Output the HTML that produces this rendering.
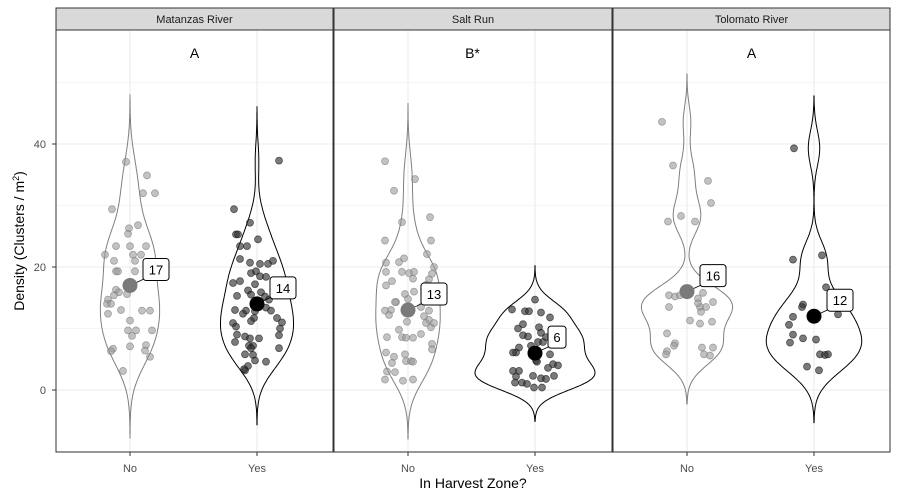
<!DOCTYPE html>
<html><head><meta charset="utf-8"><style>
body{margin:0;background:#fff;}
svg{display:block;font-family:"Liberation Sans",Arial,sans-serif;}
</style></head><body>
<svg id="chart" width="898" height="500"></svg>
<script>
const panels=["Matanzas River","Salt Run","Tolomato River"];
const letters=["A","B*","A"];
const groups=["No","Yes"];
const yTicks=[0,20,40];
const means=[[17,14],[13,6],[16,12]];
const meanLabels=[["17","14"],["13","6"],["16","12"]];
// values per panel/group
const vals=[
[[37.1,34.9,32,32,29.4,26.8,26.3,25.4,23.4,23.4,23.4,22,22,22,21,21,19.3,19.3,19.3,16.3,15.9,15.4,15.6,14.7,14,14,13,12.9,12.9,12.4,11.3,9.7,9.7,9.7,8.8,7.1,7.3,6.7,6.3,6.4,5.4,3.1],
 [37.3,29.4,27.2,25.3,25.3,24.5,23.4,23.4,21.3,20.7,20.5,20.5,21,19,19.3,18.5,18.4,17.4,17.7,17.2,15.3,16.2,15.5,15.2,15.9,14.7,13,12.9,12.4,12.8,13.4,12.9,11.7,11.2,11.7,11,10,8.9,10.9,10.3,9,8.7,8.4,8.4,7.8,7.2,7.2,6.8,5.8,5.7,4.6,4.8,3.9,3.2,3.4,6.8]],
[[37.2,34.3,32.4,27.3,28.1,24.3,24.3,22.1,21.4,20.8,20.7,20,19.2,19.2,19,19.2,18.1,18.9,18,17.7,17,17.1,16.4,15.6,16,14.8,14.3,14.3,12.9,13,12.2,13.5,12.9,12,11.4,10.9,10.2,10.9,11.1,9.8,9.1,8.6,8.6,8.5,8.5,7.5,6.6,6.1,5.4,5.8,4.7,4.7,4.6,4.4,3,2.9,1.7,1.5,1.7],
 [14.7,13.1,12.8,12.8,12.6,11.8,10.7,10,8.9,8.7,10.2,9.3,8.6,7.8,7.8,6.9,6.1,6.1,5.8,7.2,4.8,4.6,4.2,4,3.6,3.1,3.1,2.2,2.3,1.9,2.3,1.8,1.2,1.2,1,0.4,0.4]],
[[43.6,36.5,34,30.4,27.4,28.3,27.4,15.4,15.2,15.4,15.8,14.9,14.3,13.5,13.5,13.5,12.7,14.1,11.3,10.8,11.1,9.2,7.6,7.2,6.3,5.8,6.9,6.9,5.8,5.6],
 [39.3,21.2,21.9,16.7,13.9,13.5,11.9,12.3,10.6,9,8.4,8.2,7.7,5.8,5.7,5.8,3.8,3.2]]
];
// horizontal jitter (px)
const jit=[
[[-4,17,13,25,-18,8,-1,-2,-14,0,16,-25,3,11,-16,5,-14,-12,5,-14,-11,-16,-3,-22,-23,-19,-9,12,20,-22,0,-2,6,22,2,0,16,-17,-19,15,20,-7],
 [22,-23,-7,-21,-19,1,-17,-10,-17,-7,3,11,16,-6,-1,3,9,-24,-17,-2,-20,-9,-6,8,4,12,-22,-11,-14,-2,9,14,-3,-6,20,25,23,22,-24,-21,-20,-12,-7,2,-22,-8,-4,-6,-12,-4,9,-2,-9,-12,-13,22]],
[[-23,7,-14,-6,22,-23,23,19,-4,-9,-22,26,-22,-6,1,6,5,24,21,-16,-22,18,16,-3,6,0,-12,-13,-23,-17,-19,13,21,16,21,18,23,26,-1,-9,13,-21,-6,-2,5,24,24,-22,-14,-3,-2,3,5,-16,-21,-13,-23,-5,5],
 [0,-23,-10,-6,6,15,-12,-17,-12,-7,4,6,11,8,3,-16,-19,-22,15,-4,1,2,18,23,13,-22,-16,-19,-2,6,19,11,-20,-13,-8,-1,7]],
[[-25,-14,21,24,-19,-6,8,-18,-12,-7,16,11,26,-18,13,19,14,11,3,13,25,-20,-12,-13,-20,-21,15,26,17,23],
 [-20,-21,8,12,-11,-12,-21,24,-25,-21,-11,2,-24,6,11,14,-7,5]]
];
const NS="http://www.w3.org/2000/svg";
const svg=document.getElementById('chart');
function mk(t,a,p){const e=document.createElementNS(NS,t);for(const k in a)e.setAttribute(k,a[k]);(p||svg).appendChild(e);return e;}
const plotTop=30,plotBot=452;
function yS(v){return 390-v*6.15;}
const pX=[[56,333],[334,612],[613,890]];
function xS(p,g){return pX[p][0]+74+g*127;}
function kde(d){const n=d.length,m=d.reduce((a,b)=>a+b,0)/n;const sd=Math.sqrt(d.reduce((a,b)=>a+(b-m)*(b-m),0)/(n-1));
 const s=[...d].sort((a,b)=>a-b);const q=f=>{const i=(n-1)*f,l=Math.floor(i);return s[l]+(s[Math.min(l+1,n-1)]-s[l])*(i-l);};
 const iqr=q(.75)-q(.25);const bw=0.9*Math.min(sd,iqr/1.34)*Math.pow(n,-0.2);
 const lo=s[0]-3*bw,hi=s[n-1]+3*bw,pts=[];for(let i=0;i<=200;i++){const y=lo+(hi-lo)*i/200;let t=0;for(const v of d)t+=Math.exp(-0.5*((y-v)/bw)**2);pts.push([y,t/(n*bw*2.5066)]);}return pts;}
const dens=vals.map(p=>p.map(kde));
let maxD=0;dens.forEach(p=>p.forEach(g=>g.forEach(q=>{if(q[1]>maxD)maxD=q[1];})));
// y axis
yTicks.forEach(t=>{const tx=mk('text',{x:46,y:yS(t)+4,'text-anchor':'end','font-size':11,fill:'#4d4d4d'});tx.textContent=t;


mk('line',{x1:52,x2:56,y1:yS(t),y2:yS(t),stroke:'#333'});});
const yt=mk('text',{x:24,y:241,'text-anchor':'middle','font-size':14,fill:'#000',transform:'rotate(-90 24 241)'});
yt.innerHTML='Density (Clusters / m<tspan dy="-5" font-size="9">2</tspan><tspan dy="5">)</tspan>';


const xt=mk('text',{x:473,y:488,'text-anchor':'middle','font-size':14,fill:'#000'});xt.textContent='In Harvest Zone?';


panels.forEach((name,p)=>{
 const [x0,x1]=pX[p];
 const g=mk('g',{});
 
 
 for(let v=-10;v<=50;v+=10){mk('line',{x1:x0,x2:x1,y1:yS(v),y2:yS(v),stroke:'#ebebeb','stroke-width':v%20===0?1.1:0.6},g);}
 groups.forEach((gr,k)=>mk('line',{x1:xS(p,k),x2:xS(p,k),y1:plotTop,y2:plotBot,stroke:'#ebebeb','stroke-width':1.1},g));
 const lt=mk('text',{x:(xS(p,0)+xS(p,1))/2+1,y:58,'text-anchor':'middle','font-size':14,fill:'#000'},g);lt.textContent=letters[p];
 
 
 groups.forEach((gr,k)=>{
  const cx=xS(p,k),col=k?'#000':'#7f7f7f';
  const d=dens[p][k];let l='',r='';
  const W=60;
  d.forEach((q,i)=>{r+=(i?'L':'M')+(cx+q[1]/maxD*W).toFixed(1)+','+yS(q[0]).toFixed(1);});
  for(let i=d.length-1;i>=0;i--){l+='L'+(cx-d[i][1]/maxD*W).toFixed(1)+','+yS(d[i][0]).toFixed(1);}
  const vp=mk('path',{d:r+l+'Z',fill:'none',stroke:col,'stroke-width':1},g);
  
  
  vals[p][k].forEach((v,i)=>{const c=mk('circle',{cx:cx+(jit[p][k][i]||0),cy:yS(v),r:3.5,fill:k?'#333':'#999','fill-opacity':k?0.65:0.6,stroke:k?'#111':'#777','stroke-opacity':0.6,'stroke-width':0.8},g);
   
   });
  const my=yS(means[p][k]),bx=cx+13,by=my-27;
  mk('line',{x1:cx,y1:my,x2:bx+2,y2:by+20,stroke:'#000','stroke-width':0.8},g);
  const mc=mk('circle',{cx:cx,cy:my,r:7.5,fill:k?'#000':'#7a7a7a'},g);
  
  
  const w=meanLabels[p][k].length>1?26:18;
  const rb=mk('rect',{x:bx,y:by,width:w,height:22,rx:3,fill:'#fff',stroke:'#000','stroke-width':1},g);
  
  
  const tt=mk('text',{x:bx+w/2,y:by+16,'text-anchor':'middle','font-size':13,fill:'#000'},g);tt.textContent=meanLabels[p][k];
  const xl=mk('text',{x:cx,y:472,'text-anchor':'middle','font-size':11,fill:'#4d4d4d'});xl.textContent=gr;
  
  
  mk('line',{x1:cx,x2:cx,y1:plotBot,y2:plotBot+4,stroke:'#333'});
 });
 mk('rect',{x:x0,y:plotTop,width:x1-x0,height:plotBot-plotTop,fill:'none',stroke:'#333','stroke-width':1},g);
 const st=mk('rect',{x:x0,y:8,width:x1-x0,height:22,fill:'#d9d9d9',stroke:'#333','stroke-width':1},g);
 
 
 const sl=mk('text',{x:(x0+x1)/2,y:23,'text-anchor':'middle','font-size':11,fill:'#1a1a1a'},g);sl.textContent=name;
 
 
});
</script></body></html>
